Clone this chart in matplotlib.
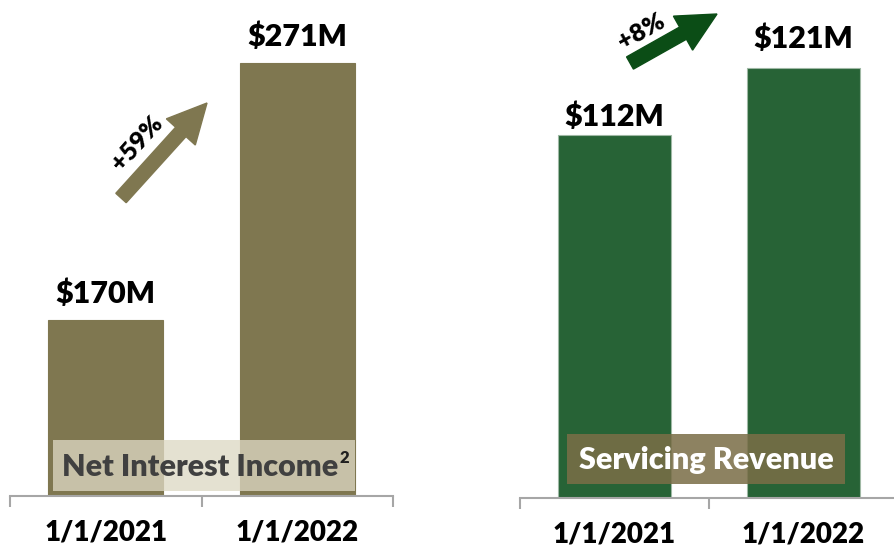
import matplotlib
matplotlib.use("Agg")
import matplotlib.pyplot as plt
from matplotlib.patches import Rectangle, FancyArrow

plt.rcParams['font.family'] = ['Lato', 'DejaVu Sans']

dates = ["1/1/2021", "1/1/2022"]
nii = [170, 271]
nii_labels = ["$170M", "$271M"]
svc = [112, 121]
svc_labels = ["$112M", "$121M"]

olive = '#7f7750'
green = '#276336'
dark_green = '#0b4d16'
WT = 'heavy'

W, H = 894, 551
fig = plt.figure(figsize=(W / 100, H / 100), dpi=100)


def px(x0, y0, x1, y1):
    # pixel box (top-left origin) -> figure fraction rect
    return [x0 / W, 1 - y1 / H, (x1 - x0) / W, (y1 - y0) / H]


def panel(rect, vals, labels, color, ylim, offs):
    ax = fig.add_axes(rect)
    ax.bar(range(len(vals)), vals, width=0.6, color=color, edgecolor='#9fb8a4' if color == green else color,
           linewidth=0.8)
    ax.set_xlim(-0.5, 1.5)
    ax.set_ylim(*ylim)
    for s in ['top', 'right', 'left']:
        ax.spines[s].set_visible(False)
    ax.spines['bottom'].set_color('#a6a6a6')
    ax.spines['bottom'].set_linewidth(1.5)
    ax.set_yticks([])
    ax.set_xticks(range(len(vals)))
    ax.set_xticklabels(dates, fontsize=20, fontweight=WT)
    ax.tick_params(axis='x', which='major', length=0, pad=17)
    ax.set_xticks([-0.5, 0.5, 1.5], minor=True)
    ax.tick_params(axis='x', which='minor', length=8, width=1.5, color='#a6a6a6', direction='out')
    for i, (v, t) in enumerate(zip(vals, labels)):
        ax.annotate(t, (i, v), xytext=(0, offs[i]), textcoords='offset points',
                    ha='center', va='baseline', fontsize=22, fontweight=WT)
    ax.patch.set_alpha(0)
    return ax


ax1 = panel(px(10, 0, 393, 496), nii, nii_labels, olive, (100.8, 295.7), [12, 12])
ax2 = panel(px(520, 0, 898, 498), svc, svc_labels, green, (63.2, 130.1), [6, 14])

# legend-like boxes
r1 = px(53, 440, 355, 491)
fig.patches.append(Rectangle(r1[:2], *r1[2:], transform=fig.transFigure, facecolor='#ddd8c3',
                             alpha=0.77, edgecolor='none', zorder=3))
fig.text(62 / W, 1 - 467 / H, "Net Interest Income", fontsize=22, fontweight=WT,
         color='#404040', va='center', ha='left', zorder=4)
fig.text(340 / W, 1 - 458 / H, "2", fontsize=12, fontweight=WT,
         color='#202020', va='center', ha='left', zorder=4)

r2 = px(567, 434, 845, 484)
fig.patches.append(Rectangle(r2[:2], *r2[2:], transform=fig.transFigure, facecolor='#7a6e47',
                             alpha=0.86, edgecolor='none', zorder=3))
fig.text(706 / W, 1 - 460 / H, "Servicing Revenue", fontsize=22, fontweight=WT,
         color='white', va='center', ha='center', zorder=4)

# growth arrows (inches)
t = fig.dpi_scale_trans


def arrow(x0, y0, x1, y1, color):
    a = FancyArrow(x0 / 100, (H - y0) / 100, (x1 - x0) / 100, (y0 - y1) / 100,
                   width=0.14, head_width=0.39, head_length=0.39,
                   length_includes_head=True, transform=t, color=color, zorder=5)
    fig.patches.append(a)


arrow(121, 198, 207, 103, olive)
arrow(630, 63, 717, 14, dark_green)
fig.text(137 / W, 1 - 143 / H, "+59%", rotation=48, fontsize=18, fontweight=WT,
         ha='center', va='center', rotation_mode='anchor')
fig.text(641 / W, 1 - 32 / H, "+8%", rotation=29, fontsize=18, fontweight=WT,
         ha='center', va='center', rotation_mode='anchor')

fig.savefig("out.png", dpi=100)
